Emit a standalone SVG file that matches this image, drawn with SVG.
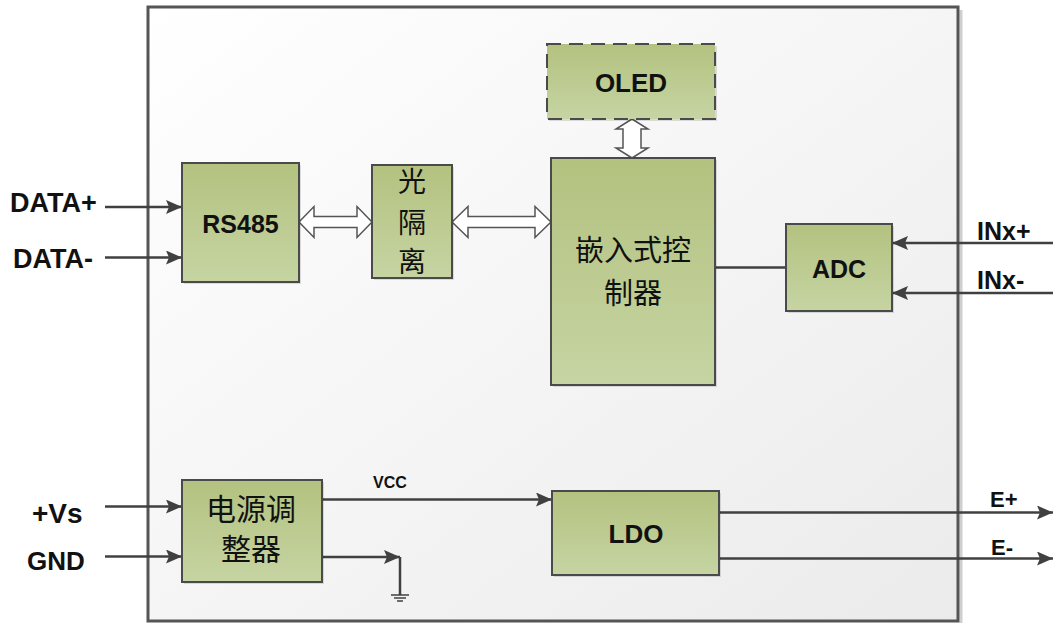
<svg xmlns="http://www.w3.org/2000/svg" width="1053" height="623" viewBox="0 0 1053 623">
<defs>
<linearGradient id="bg" x1="0" y1="0" x2="1" y2="1">
<stop offset="0" stop-color="#ffffff"/>
<stop offset="1" stop-color="#ebebeb"/>
</linearGradient>
<linearGradient id="gf" x1="0" y1="0" x2="0" y2="1">
<stop offset="0" stop-color="#b3c27f"/>
<stop offset="1" stop-color="#c6d4a3"/>
</linearGradient>
<marker id="ah" viewBox="0 0 16 14" refX="16" refY="7" markerWidth="16" markerHeight="14" markerUnits="userSpaceOnUse" orient="auto">
<path d="M0,0 L16,7 L0,14 L3,7 z" fill="#404040"/>
</marker>
<style>
.box{fill:url(#gf);stroke:#4a4a4a;stroke-width:2}
.sh{fill:#000;opacity:0.12}
.ln{fill:none;stroke:#404040;stroke-width:2.5}
.arr{marker-end:url(#ah)}
.da{fill:#ffffff;stroke:#555555;stroke-width:1.5;stroke-linejoin:miter}
.lt{font-family:"Liberation Sans",Arial,sans-serif;font-weight:bold;fill:#111}
.cj{font-family:"Noto Sans CJK SC",sans-serif;fill:#111}
.mid{text-anchor:middle}
</style>
</defs>
<rect width="1053" height="623" fill="#ffffff"/>
<g id="frame">
<line x1="961" y1="10" x2="961" y2="623" stroke="#cfcfcf" stroke-width="3"/>
<rect x="148" y="7" width="810" height="614" fill="url(#bg)" stroke="#555555" stroke-width="3"/>
</g>
<g id="connectors">
<line class="ln arr" x1="105" y1="207" x2="182" y2="207"/>
<line class="ln arr" x1="105" y1="257.5" x2="182" y2="257.5"/>
<polygon class="da" points="299,222 314,206.5 314,216.5 357,216.5 357,206.5 372,222 357,237.5 357,227.5 314,227.5 314,237.5"/>
<polygon class="da" points="452,222 468,206.5 468,216.5 535,216.5 535,206.5 551,222 535,237.5 535,227.5 468,227.5 468,237.5"/>
<polygon class="da" points="632,119 648,129 641,129 641,148 648,148 632,158 616,148 623,148 623,129 616,129"/>
<line class="ln" x1="715" y1="267.5" x2="786" y2="267.5"/>
<line class="ln arr" x1="1053" y1="243" x2="892" y2="243"/>
<line class="ln arr" x1="1053" y1="293" x2="892" y2="293"/>
<line class="ln arr" x1="105" y1="506.5" x2="182" y2="506.5"/>
<line class="ln arr" x1="105" y1="556.5" x2="182" y2="556.5"/>
<line class="ln arr" x1="322" y1="499.5" x2="552" y2="499.5"/>
<line class="ln arr" x1="322" y1="557" x2="400" y2="557"/>
<line class="ln" x1="400" y1="557" x2="400" y2="595"/>
<line x1="391" y1="595" x2="409" y2="595" stroke="#404040" stroke-width="1.5"/>
<line x1="394" y1="598" x2="406" y2="598" stroke="#404040" stroke-width="1.5"/>
<line x1="397" y1="601" x2="403" y2="601" stroke="#404040" stroke-width="1.5"/>
<line class="ln arr" x1="719" y1="512.5" x2="1053" y2="512.5"/>
<line class="ln arr" x1="719" y1="558.5" x2="1053" y2="558.5"/>
</g>
<g id="labels">
<text class="lt" x="10" y="212" font-size="27">DATA+</text>
<text class="lt" x="13" y="268" font-size="27">DATA-</text>
<text class="lt" x="977" y="240" font-size="25">INx+</text>
<text class="lt" x="977" y="289" font-size="25">INx-</text>
<text class="lt" x="32" y="523" font-size="28">+Vs</text>
<text class="lt" x="27" y="570" font-size="26">GND</text>
<text class="lt" x="373" y="488" font-size="16">VCC</text>
<text class="lt" x="990" y="507" font-size="22">E+</text>
<text class="lt" x="991" y="555" font-size="22">E-</text>
</g>
<g id="rs485">
<rect class="sh" x="184" y="165" width="117" height="119"/>
<rect class="box" x="182" y="163" width="117" height="119"/>
<text class="lt mid" x="240.5" y="233" font-size="25">RS485</text>
</g>
<g id="isolator">
<rect class="sh" x="374" y="167" width="80" height="113"/>
<rect class="box" x="372" y="165" width="80" height="113"/>
<text class="cj mid" x="412" y="192" font-size="28"><tspan x="412" y="192">光</tspan><tspan x="412" y="233">隔</tspan><tspan x="412" y="272">离</tspan></text>
</g>
<g id="oled">
<rect class="sh" x="549" y="46" width="168" height="75"/>
<rect class="box" x="547" y="44" width="168" height="75" stroke-dasharray="14,8"/>
<text class="lt mid" x="631" y="92" font-size="26">OLED</text>
</g>
<g id="controller">
<rect class="sh" x="553" y="160" width="164" height="227"/>
<rect class="box" x="551" y="158" width="164" height="227"/>
<text class="cj mid" x="633" y="261" font-size="29"><tspan x="633" y="261">嵌入式控</tspan><tspan x="633" y="304">制器</tspan></text>
</g>
<g id="adc">
<rect class="sh" x="788" y="226" width="106" height="87"/>
<rect class="box" x="786" y="224" width="106" height="87"/>
<text class="lt mid" x="839" y="278" font-size="25">ADC</text>
</g>
<g id="regulator">
<rect class="sh" x="184" y="482" width="140" height="102"/>
<rect class="box" x="182" y="480" width="140" height="102"/>
<text class="cj mid" x="251" y="520" font-size="30"><tspan x="251" y="520">电源调</tspan><tspan x="251" y="560">整器</tspan></text>
</g>
<g id="ldo">
<rect class="sh" x="554" y="493" width="167" height="84"/>
<rect class="box" x="552" y="491" width="167" height="84"/>
<text class="lt mid" x="636" y="543" font-size="26">LDO</text>
</g>
</svg>
